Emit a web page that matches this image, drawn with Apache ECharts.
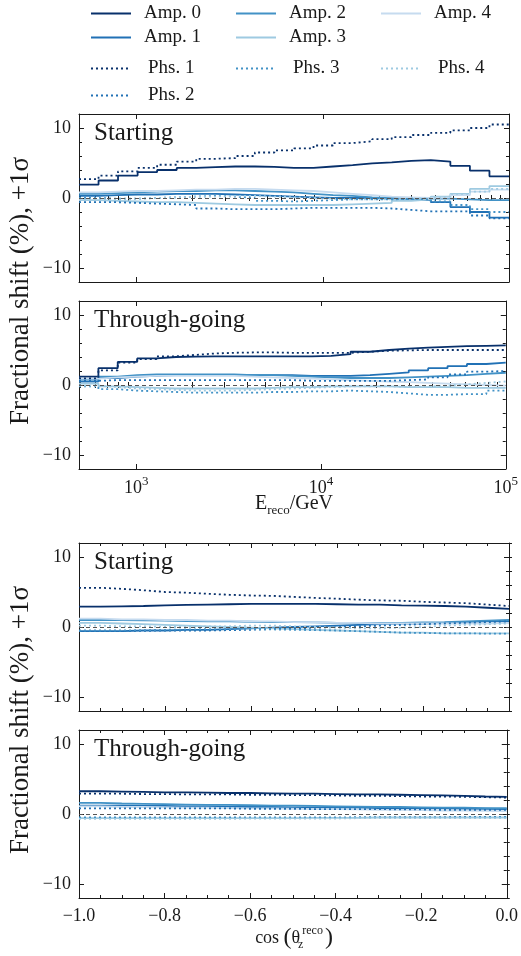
<!DOCTYPE html>
<html><head><meta charset="utf-8">
<script src="https://cdn.jsdelivr.net/npm/echarts@6/dist/echarts.min.js"></script>
<style>html,body{margin:0;padding:0;background:#fff}#c{width:521px;height:956px}</style>
</head><body><div id="c"></div>
<script>
// ---------------- DATA ----------------
const seriesNames = ['Amp. 0','Amp. 1','Amp. 2','Amp. 3','Amp. 4','Phs. 1','Phs. 2','Phs. 3','Phs. 4'];
const energyEdges = [490,624,794,1012,1288,1641,2089,2661,3388,4315,5495,6998,8913,11350,14454,18408,23442,29854,38019,48417,61660,78524,100000];
const cosEdges = [-1,-0.95,-0.9,-0.85,-0.8,-0.75,-0.7,-0.65,-0.6,-0.55,-0.5,-0.45,-0.4,-0.35,-0.3,-0.25,-0.2,-0.15,-0.1,-0.05,0];
const energyTicks = [1000,10000,100000];
const yTicks = [-10,0,10];
const panelLabels = ['Starting','Through-going','Starting','Through-going'];

// Energy, Starting
const eS_amp0 = [1.9,2.5,3.2,3.7,4.0,4.3,4.4,4.5,4.5,4.45,4.3,4.3,4.5,4.7,4.95,5.1,5.3,5.4,5.2,4.6,3.9,3.1];
const eS_amp1 = [0.3,0.4,0.5,0.5,0.6,0.6,0.6,0.5,0.4,0.3,0.2,0.1,0.0,0.0,0.0,-0.1,-0.2,-0.3,-0.6,-1.3,-2.0,-2.8];
const eS_amp2 = [0.6,0.7,0.8,0.9,1.0,1.0,1.1,1.1,1.0,0.9,0.8,0.6,0.4,0.3,0.1,0.0,-0.1,-0.1,-0.1,-0.2,-0.3,-0.3];
const eS_amp3 = [-0.3,-0.4,-0.5,-0.6,-0.6,-0.7,-0.8,-0.9,-1.0,-1.0,-1.0,-1.0,-1.0,-0.9,-0.8,-0.7,-0.4,-0.2,0.2,0.6,1.3,1.7];
const eS_amp4 = [0.8,0.9,1.0,1.0,1.1,1.2,1.2,1.3,1.3,1.2,1.1,1.0,0.8,0.6,0.4,0.2,0.1,0.0,0.1,0.4,0.9,1.2];
const eS_phs1 = [2.7,3.2,3.8,4.3,4.75,5.2,5.6,5.7,6.0,6.5,6.8,7.1,7.5,7.85,8.1,8.4,8.7,9.0,9.3,9.65,10.0,10.5];
const eS_phs2 = [-0.6,-0.6,-0.7,-0.8,-0.9,-1.0,-1.5,-1.6,-1.6,-1.6,-1.5,-1.4,-1.4,-1.4,-1.4,-1.5,-1.7,-1.9,-1.9,-1.9,-2.5,-2.9];
const eS_phs3 = [0.0,-0.1,-0.1,0.0,0.1,0.2,0.3,0.2,0.0,-0.4,-0.5,-0.4,-0.3,-0.2,-0.2,-0.2,-0.1,-0.2,-0.5,-1.0,-1.6,-2.0];
const eS_phs4 = [-0.2,-0.2,-0.1,0.0,0.1,0.2,0.2,0.3,0.3,0.2,0.1,0.0,-0.1,-0.2,-0.2,-0.2,-0.1,0.0,0.2,0.6,0.9,1.3];

// Energy, Through-going
const eT_amp0 = [1.2,2.4,3.3,3.8,4.0,4.05,4.1,4.1,4.1,4.1,4.1,4.1,4.15,4.4,4.75,5.0,5.2,5.35,5.45,5.55,5.6,5.65];
const eT_amp1 = [0.5,1.0,1.2,1.3,1.4,1.4,1.4,1.4,1.4,1.4,1.4,1.3,1.3,1.3,1.4,1.6,1.8,2.1,2.4,2.7,3.0,3.2];
const eT_amp2 = [0.8,1.2,1.4,1.5,1.5,1.5,1.5,1.5,1.4,1.4,1.3,1.2,1.1,1.0,1.0,1.0,1.1,1.2,1.3,1.4,1.6,1.75];
const eT_amp3 = [0.2,-0.2,-0.3,-0.4,-0.5,-0.5,-0.5,-0.5,-0.5,-0.4,-0.3,-0.3,-0.2,-0.2,-0.2,-0.2,-0.3,-0.3,-0.3,-0.4,-0.4,-0.4];
const eT_amp4 = [0.9,1.1,1.2,1.3,1.3,1.3,1.3,1.3,1.2,1.1,1.0,0.9,0.8,0.7,0.6,0.5,0.4,0.3,0.2,0.1,0.0,-0.1];
const eT_phs1 = [0.95,2.1,3.2,3.7,4.1,4.3,4.5,4.6,4.65,4.65,4.6,4.6,4.6,4.6,4.75,4.9,4.95,5.0,5.0,5.0,5.0,5.0];
const eT_phs2 = [0.6,0.7,0.7,0.7,0.7,0.7,0.7,0.7,0.7,0.7,0.7,0.6,0.6,0.6,0.6,0.6,0.7,0.8,1.1,1.5,1.9,2.0];
const eT_phs3 = [-0.2,-0.6,-0.8,-0.9,-1.0,-1.1,-1.1,-1.1,-1.1,-1.0,-1.0,-0.9,-0.9,-0.8,-0.9,-1.0,-1.2,-1.4,-1.4,-1.3,-1.3,-0.8];
const eT_phs4 = [-0.1,-0.3,-0.5,-0.6,-0.7,-0.8,-0.8,-0.8,-0.7,-0.6,-0.5,-0.4,-0.3,-0.2,-0.2,-0.2,-0.3,-0.2,-0.1,0.1,0.3,0.5];

// cos zenith, Starting
const cS_amp0 = [2.9,2.95,3.0,3.1,3.15,3.2,3.25,3.3,3.3,3.3,3.3,3.25,3.2,3.2,3.1,3.05,3.0,2.9,2.75,2.6];
const cS_amp1 = [-0.6,-0.6,-0.5,-0.5,-0.4,-0.4,-0.3,-0.2,-0.1,0.0,0.1,0.2,0.3,0.4,0.5,0.5,0.6,0.7,0.8,0.8];
const cS_amp2 = [1.0,1.0,0.95,0.9,0.85,0.8,0.8,0.75,0.7,0.7,0.65,0.6,0.6,0.6,0.6,0.65,0.7,0.8,0.9,1.0];
const cS_amp3 = [0.6,0.5,0.4,0.3,0.2,0.1,0.0,-0.1,-0.2,-0.3,-0.4,-0.5,-0.6,-0.7,-0.8,-0.8,-0.9,-0.9,-0.9,-0.9];
const cS_amp4 = [1.2,1.1,1.1,1.0,1.0,0.9,0.9,0.8,0.8,0.7,0.7,0.6,0.6,0.5,0.5,0.5,0.5,0.5,0.5,0.6];
const cS_phs1 = [5.6,5.45,5.25,5.0,4.9,4.75,4.6,4.5,4.45,4.3,4.15,4.05,3.9,3.8,3.75,3.6,3.5,3.4,3.2,3.0];
const cS_phs2 = [-0.6,-0.6,-0.55,-0.5,-0.5,-0.5,-0.45,-0.4,-0.3,-0.2,-0.1,0.0,0.1,0.2,0.3,0.4,0.5,0.6,0.7,0.8];
const cS_phs3 = [-0.5,-0.5,-0.45,-0.4,-0.35,-0.3,-0.3,-0.3,-0.35,-0.4,-0.45,-0.5,-0.6,-0.7,-0.8,-0.85,-0.9,-0.9,-0.95,-0.95];
const cS_phs4 = [0.2,0.1,0.1,0.0,0.0,0.1,0.1,0.2,0.2,0.1,0.0,-0.1,-0.2,-0.2,-0.1,0.0,0.2,0.3,0.4,0.5];

// cos zenith, Through-going
const cT_amp0 = [3.25,3.2,3.15,3.1,3.1,3.05,3.0,3.0,2.95,2.9,2.9,2.85,2.8,2.8,2.75,2.7,2.65,2.6,2.5,2.45];
const cT_amp1 = [1.2,1.2,1.15,1.15,1.1,1.1,1.05,1.0,1.0,0.95,0.95,0.9,0.9,0.85,0.85,0.8,0.8,0.75,0.75,0.7];
const cT_amp2 = [1.6,1.5,1.45,1.4,1.35,1.3,1.3,1.25,1.2,1.2,1.15,1.1,1.05,1.0,1.0,0.95,0.9,0.9,0.85,0.85];
const cT_amp3 = [-0.6,-0.6,-0.6,-0.6,-0.6,-0.6,-0.6,-0.6,-0.6,-0.6,-0.55,-0.55,-0.55,-0.5,-0.5,-0.5,-0.5,-0.5,-0.5,-0.5];
const cT_amp4 = [1.1,1.0,1.0,0.95,0.9,0.9,0.85,0.8,0.8,0.75,0.7,0.7,0.65,0.6,0.6,0.55,0.5,0.5,0.45,0.4];
const cT_phs1 = [2.9,2.9,2.85,2.85,2.8,2.8,2.8,2.75,2.75,2.7,2.7,2.65,2.6,2.6,2.55,2.5,2.5,2.45,2.4,2.35];
const cT_phs2 = [0.8,0.8,0.8,0.8,0.8,0.8,0.8,0.75,0.75,0.75,0.7,0.7,0.7,0.7,0.65,0.65,0.6,0.6,0.6,0.6];
const cT_phs3 = [-0.5,-0.5,-0.5,-0.5,-0.5,-0.5,-0.5,-0.5,-0.5,-0.5,-0.5,-0.5,-0.45,-0.45,-0.45,-0.45,-0.45,-0.4,-0.4,-0.4];
const cT_phs4 = [-0.7,-0.7,-0.7,-0.7,-0.7,-0.7,-0.7,-0.65,-0.65,-0.65,-0.65,-0.65,-0.6,-0.6,-0.6,-0.6,-0.6,-0.6,-0.6,-0.6];

// ---------------- STYLE / LAYOUT ----------------
const FONT = '"Liberation Serif", "Times New Roman", serif';
const INK = '#1a1a1a';
const seriesColors = ['#08306b','#2171b5','#4292c6','#9ecae1','#c6dbef','#08306b','#2171b5','#4292c6','#9ecae1'];
const seriesDotted = [false,false,false,false,false,true,true,true,true];
const gridBoxes = [
  {left:79, top:114, width:430, height:168},
  {left:79, top:301, width:430, height:168},
  {left:79, top:543, width:430, height:168},
  {left:79, top:730, width:430, height:168}
];
const panels = [
  {kind:'E', labels:false, sets:[eS_amp0,eS_amp1,eS_amp2,eS_amp3,eS_amp4,eS_phs1,eS_phs2,eS_phs3,eS_phs4]},
  {kind:'E', labels:true,  sets:[eT_amp0,eT_amp1,eT_amp2,eT_amp3,eT_amp4,eT_phs1,eT_phs2,eT_phs3,eT_phs4]},
  {kind:'C', labels:false, sets:[cS_amp0,cS_amp1,cS_amp2,cS_amp3,cS_amp4,cS_phs1,cS_phs2,cS_phs3,cS_phs4]},
  {kind:'C', labels:true,  sets:[cT_amp0,cT_amp1,cT_amp2,cT_amp3,cT_amp4,cT_phs1,cT_phs2,cT_phs3,cT_phs4]}
];

// minor tick positions for the log axis (2..9 x 10^n)
const logMinor = [];
for (let d = 2; d <= 4; d++) for (let m = 2; m <= 9; m++) {
  const v = m * Math.pow(10, d);
  if (v > energyEdges[0] && v < energyEdges[energyEdges.length-1]) logMinor.push(v);
}

const xAxes = [], yAxes = [], series = [];
const tickLine = {color: INK, width: 1};
const minus = v => (v < -1e-9 ? '\u2212' : '');

function addXAxes(gi, kind, showLabels) {
  const base = xAxes.length;
  if (kind === 'E') {
    const common = {type:'log', logBase:10, min:energyEdges[0], max:energyEdges[energyEdges.length-1], gridIndex:gi, splitLine:{show:false}};
    const lbl = {
      show: showLabels, customValues: energyTicks, margin: 6,
      formatter: v => '{b|10}{s|' + Math.round(Math.log10(v)) + '}',
      rich: {
        b: {fontFamily:FONT, fontSize:18, color:INK, lineHeight:22, verticalAlign:'bottom'},
        s: {fontFamily:FONT, fontSize:13, color:INK, lineHeight:10, verticalAlign:'top'}
      }
    };
    ['bottom','top'].forEach(pos => {
      xAxes.push(Object.assign({}, common, {position:pos, axisLine:{show:true, onZero:false, lineStyle:{color:INK, width:1}},
        axisTick:{show:true, inside:true, length:5, customValues:energyTicks, lineStyle:tickLine},
        axisLabel: pos === 'bottom' ? lbl : {show:false}}));
      xAxes.push(Object.assign({}, common, {position:pos, axisLine:{show:false},
        axisTick:{show:true, inside:true, length:3, customValues:logMinor, lineStyle:tickLine},
        axisLabel:{show:false}}));
    });
  } else {
    const common = {type:'value', min:-1, max:0, interval:0.2, gridIndex:gi, splitLine:{show:false}};
    ['bottom','top'].forEach(pos => {
      xAxes.push(Object.assign({}, common, {position:pos, axisLine:{show:true, onZero:false, lineStyle:{color:INK, width:1}},
        axisTick:{show:true, inside:true, length:5, lineStyle:tickLine},
        minorTick:{show:true, splitNumber:4, length:3, lineStyle:tickLine},
        axisLabel: pos === 'bottom' ? {show:showLabels, margin:9, fontFamily:FONT, fontSize:18, color:INK,
          formatter: v => minus(v) + Math.abs(v).toFixed(1)} : {show:false}}));
    });
  }
  return base;
}

function addYAxes(gi) {
  const base = yAxes.length;
  const common = {type:'value', min:-12, max:12, interval:2, gridIndex:gi, splitLine:{show:false}};
  ['left','right'].forEach(pos => {
    yAxes.push(Object.assign({}, common, {position:pos, axisLine:{show:true, onZero:false, lineStyle:{color:INK, width:1}},
      axisTick:{show:true, inside:true, length:5, customValues:yTicks, lineStyle:tickLine},
      axisLabel: pos === 'left' ? {show:true, customValues:yTicks, margin:8, fontFamily:FONT, fontSize:18, color:INK,
        formatter: v => (v % 10 === 0 ? minus(v) + Math.abs(v) : '')} : {show:false}}));
    yAxes.push(Object.assign({}, common, {position:pos, axisLine:{show:false},
      axisTick:{show:true, inside:true, length:3, lineStyle:tickLine}, axisLabel:{show:false}}));
  });
  return base;
}

panels.forEach((p, gi) => {
  const xi = addXAxes(gi, p.kind, p.labels);
  const yi = addYAxes(gi);
  const edges = p.kind === 'E' ? energyEdges : cosEdges;
  p.sets.forEach((vals, si) => {
    const s = {
      type:'line', name: seriesNames[si], xAxisIndex: xi, yAxisIndex: yi,
      step:'end', symbol:'none', showSymbol:false, silent:true,
      data: edges.map((e, i) => [e, vals[Math.min(i, vals.length - 1)]]),
      lineStyle:{color: seriesColors[si], width:1.8, type: seriesDotted[si] ? [2,3] : 'solid', cap:'butt'},
      itemStyle:{color: seriesColors[si]},
      z: 3
    };
    if (si === 0) {
      s.markLine = {silent:true, symbol:['none','none'], label:{show:false}, animation:false,
        lineStyle:{color:'#555', type:[4,3], width:1}, data:[{yAxis:0}]};
    }
    series.push(s);
  });
});

// legend layout (manual placement to mimic the reference)
const legendSpec = [
  {name:'Amp. 0', x:90,  y:11, pad:8},
  {name:'Amp. 1', x:90,  y:35, pad:8},
  {name:'Phs. 1', x:90,  y:66, pad:12},
  {name:'Phs. 2', x:90,  y:93, pad:12},
  {name:'Amp. 2', x:235, y:11, pad:8},
  {name:'Amp. 3', x:235, y:35, pad:8},
  {name:'Phs. 3', x:235, y:66, pad:12},
  {name:'Amp. 4', x:380, y:11, pad:8},
  {name:'Phs. 4', x:380, y:66, pad:12}
];
const legends = legendSpec.map(l => ({
  data:[l.name], left:l.x, top:l.y - 7, itemWidth:40, itemHeight:14, padding:0, selectedMode:false,
  itemStyle:{opacity:0, borderWidth:0},
  textStyle:{fontFamily:FONT, fontSize:19, color:INK, padding:[0,0,0,l.pad]}
}));

const titles = panelLabels.map((t, i) => ({
  text:t, left:94, top:gridBoxes[i].top + 7, padding:0,
  textStyle:{fontFamily:FONT, fontSize:25, fontWeight:'normal', color:INK}
}));

const yTitle = 'Fractional shift (%), +1\u03c3';
const graphics = [
  {type:'text', x:21, y:291, rotation:Math.PI/2, style:{text:yTitle, fontFamily:FONT, fontSize:27, fill:INK, align:'center', verticalAlign:'middle'}},
  {type:'text', x:21, y:720, rotation:Math.PI/2, style:{text:yTitle, fontFamily:FONT, fontSize:27, fill:INK, align:'center', verticalAlign:'middle'}},
  {type:'text', x:294, y:504, style:{text:'{m|E}{s|reco}{m|/GeV}', align:'center', verticalAlign:'middle',
    rich:{m:{fontFamily:FONT, fontSize:20, fill:INK, lineHeight:26, verticalAlign:'middle'},
          s:{fontFamily:FONT, fontSize:13, fill:INK, lineHeight:13, verticalAlign:'bottom'}}}},
  {type:'text', x:294, y:938, style:{text:'{m|cos }{p|(}{m|\u03b8}{z|z}{u|reco}{p|)}', align:'center', verticalAlign:'middle',
    rich:{m:{fontFamily:FONT, fontSize:18, fill:INK, lineHeight:26, verticalAlign:'middle'},
          p:{fontFamily:FONT, fontSize:24, fill:INK, lineHeight:26, verticalAlign:'middle'},
          z:{fontFamily:FONT, fontSize:12, fill:INK, lineHeight:12, verticalAlign:'bottom', width:1},
          u:{fontFamily:FONT, fontSize:12, fill:INK, lineHeight:12, verticalAlign:'top', padding:[0,2,0,1]}}}}
];

const chart = echarts.init(document.getElementById('c'), null, {renderer:'canvas'});
chart.setOption({
  animation:false,
  backgroundColor:'#fff',
  title: titles,
  legend: legends,
  grid: gridBoxes.map(g => Object.assign({containLabel:false}, g)),
  xAxis: xAxes,
  yAxis: yAxes,
  graphic: graphics,
  series: series
});
</script></body></html>
